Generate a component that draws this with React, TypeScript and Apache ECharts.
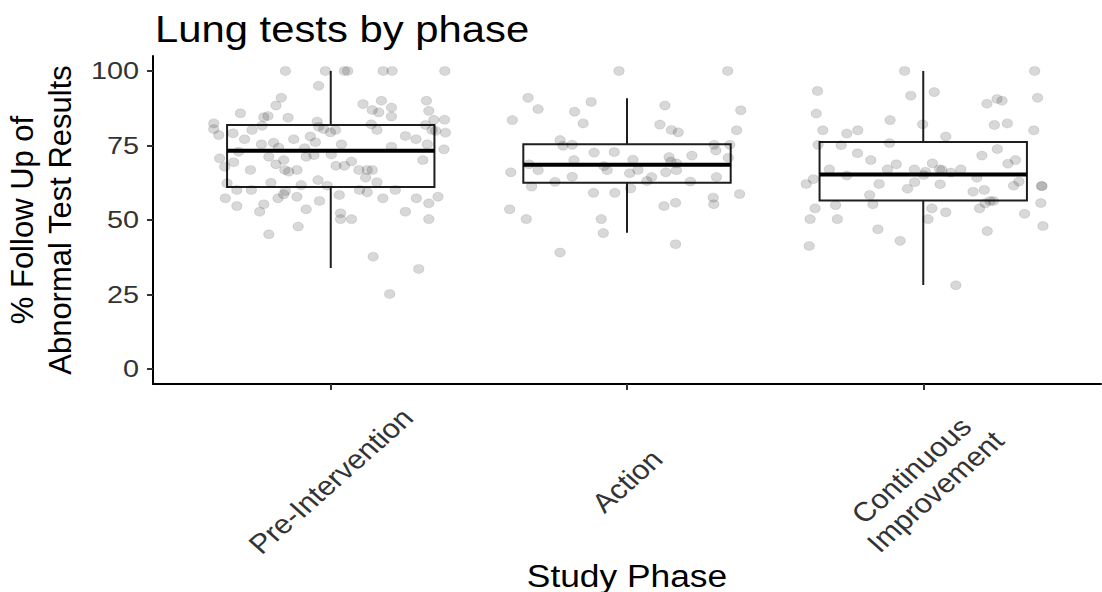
import React, { useEffect, useRef } from "react";
import * as echarts from "echarts";

const FONT = "'Liberation Sans', Arial, Helvetica, sans-serif";

const titleText = "Lung tests by phase";
const xTitle = "Study Phase";
const yTitle = "% Follow Up of\nAbnormal Test Results";

const categories = ["Pre-Intervention", "Action", "Continuous\nImprovement"];
const categoryIndex = [0, 1, 2];
const yTicks = [0, 25, 50, 75, 100];
const yTickLabels = ["0", "25", "50", "75", "100"];

// boxplot statistics: lower whisker, Q1, median, Q3, upper whisker
const boxLow = [33.9, 45.7, 28.2];
const boxQ1 = [61.1, 62.5, 56.5];
const boxMedian = [73.2, 68.5, 65.3];
const boxQ3 = [81.9, 75.4, 76.2];
const boxHigh = [100, 90.8, 100];

// jittered points: horizontal jitter (in category units) and value
const preJitter = [
  -0.153, -0.018, 0.046, 0.057, 0.177, 0.207, 0.385, -0.041, -0.167, -0.185,
  -0.305, 0.109, 0.171, 0.323, 0.14, 0.162, 0.205, 0.205, 0.331, -0.226,
  -0.212, -0.144, -0.395, -0.395, -0.378, -0.33, -0.266, -0.232, -0.046, -0.041,
  -0.024, -0.001, 0.016, 0.137, 0.156, 0.348, 0.384, 0.32, 0.342, 0.354,
  0.387, 0.252, 0.288, 0.382, 0.326, 0.311, 0.205, -0.291, -0.234, -0.193,
  -0.125, -0.069, -0.052, -0.088, 0.036, -0.311, -0.209, -0.176, -0.159, -0.083,
  -0.057, 0.002, -0.375, -0.328, -0.358, -0.271, -0.185, -0.155, -0.142, -0.114,
  0.018, 0.046, 0.07, 0.095, 0.123, 0.14, 0.118, 0.156, -0.043, -0.012,
  -0.35, -0.202, -0.1, -0.317, -0.268, -0.153, -0.159, 0.097, 0.123, 0.218,
  0.029, -0.356, -0.178, -0.114, -0.038, 0.176, 0.289, 0.362, 0.331, -0.317,
  -0.226, -0.24, -0.083, 0.252, 0.033, 0.033, 0.07, 0.331, -0.11, -0.209,
  0.143, 0.297, 0.199,
];
const preValues = [
  100, 100, 100, 100, 100, 100, 100, 95.0, 91.0, 88.4,
  85.8, 88.9, 90.0, 90.0, 86.9, 86.1, 87.7, 84.7, 86.6, 84.5,
  84.9, 84.3, 82.4, 80.5, 78.5, 79.1, 80.2, 81.6, 83.0, 81.3,
  80.5, 79.4, 80.2, 82.1, 80.2, 83.6, 83.6, 81.9, 80.2, 79.9,
  79.3, 78.2, 77.1, 73.7, 75.4, 70.1, 74.6, 77.1, 75.4, 75.9,
  77.1, 78.0, 76.1, 74.1, 75.4, 72.9, 71.2, 74.3, 70.1, 71.2,
  71.8, 72.0, 70.7, 69.4, 67.9, 66.8, 68.7, 66.8, 66.2, 66.8,
  68.2, 68.2, 69.6, 66.8, 66.8, 66.8, 64.2, 62.7, 63.4, 61.5,
  62.3, 62.5, 61.7, 60.1, 60.1, 59.7, 58.6, 60.1, 59.3, 60.1,
  58.4, 57.3, 57.3, 57.8, 56.4, 57.3, 57.3, 57.8, 55.6, 54.7,
  55.3, 52.8, 53.6, 52.8, 52.3, 50.3, 50.3, 50.3, 47.8, 45.2,
  37.7, 33.6, 25.2,
];

const actionJitter = [
  -0.027, 0.34, -0.334, -0.3, -0.387, -0.177, -0.121, -0.148, 0.128, 0.384,
  0.111, 0.15, 0.173, 0.37, -0.226, -0.216, -0.185, 0.294, 0.3, 0.347,
  -0.111, -0.043, -0.179, 0.02, 0.142, 0.148, 0.167, 0.219, 0.342, -0.331,
  -0.3, -0.392, -0.078, -0.067, 0.009, 0.037, 0.131, 0.167, -0.185, -0.243,
  -0.322, 0.067, 0.083, 0.214, 0.302, 0.012, -0.113, -0.041, 0.38, 0.291,
  0.293, 0.164, 0.125, -0.396, -0.34, -0.087, -0.08, 0.164, -0.226,
];
const actionValues = [
  100, 100, 91.0, 87.2, 83.5, 86.3, 89.6, 82.4, 88.4, 86.8,
  82.0, 80.2, 79.4, 80.1, 76.8, 74.9, 75.2, 75.2, 73.3, 75.2,
  72.6, 72.8, 70.1, 70.2, 71.1, 69.6, 69.0, 71.6, 70.9, 68.7,
  66.7, 66.0, 68.1, 66.7, 65.7, 66.8, 66.0, 66.7, 64.5, 62.8,
  61.2, 63.1, 64.4, 62.9, 64.4, 60.6, 59.1, 59.1, 58.7, 57.5,
  55.3, 55.8, 54.7, 53.6, 50.3, 50.3, 45.6, 41.9, 39.1,
];

const contJitter = [
  -0.063, 0.376, -0.357, -0.042, 0.037, 0.386, -0.361, 0.215, 0.249, 0.266,
  -0.339, -0.258, -0.221, -0.112, -0.002, 0.076, 0.24, 0.284, 0.373, -0.355,
  -0.277, -0.114, -0.222, -0.177, 0.198, 0.25, 0.286, 0.311, -0.317, -0.371,
  -0.395, -0.258, -0.149, -0.121, -0.091, -0.03, -0.053, -0.029, 0.007, 0.001,
  0.031, 0.055, 0.063, 0.093, 0.127, 0.057, 0.181, 0.305, 0.323, 0.401,
  0.399, 0.168, 0.206, -0.181, -0.17, -0.296, -0.365, -0.382, -0.29, 0.029,
  0.076, 0.016, 0.19, 0.209, 0.226, 0.237, 0.342, 0.397, 0.404, -0.153,
  0.216, -0.385, -0.078, 0.11,
];
const contValues = [
  100, 100, 93.3, 91.7, 92.9, 91.0, 85.7, 89.0, 90.6, 90.0,
  80.1, 79.0, 80.1, 83.5, 82.1, 78.0, 81.9, 82.4, 80.1, 75.2,
  75.1, 75.8, 72.4, 70.1, 71.6, 73.8, 68.9, 70.1, 67.0, 63.7,
  62.1, 64.9, 62.1, 67.0, 68.7, 67.0, 60.5, 62.7, 66.2, 65.1,
  69.0, 67.0, 66.8, 65.9, 67.0, 62.0, 64.2, 61.5, 62.9, 61.4,
  61.4, 59.5, 60.1, 58.4, 55.3, 55.0, 53.9, 50.3, 50.3, 53.9,
  52.6, 50.3, 53.9, 55.6, 56.4, 56.4, 52.1, 55.7, 48.0, 46.9,
  46.3, 41.3, 43.0, 28.1,
];

const jitterGroups = [
  { jitter: preJitter, values: preValues },
  { jitter: actionJitter, values: actionValues },
  { jitter: contJitter, values: contValues },
];

const BOX_HALF = 0.35;
const STRETCH = 1.13;

export default function App() {
  const ref = useRef<HTMLDivElement>(null);

  useEffect(() => {
    if (!ref.current) return;
    const chart = echarts.init(ref.current, undefined, { renderer: "svg" });

    const boxData = categoryIndex.map((i) => [
      i,
      boxLow[i],
      boxQ1[i],
      boxMedian[i],
      boxQ3[i],
      boxHigh[i],
    ]);

    const pointData: number[][] = [];
    jitterGroups.forEach((g, i) => {
      g.values.forEach((v, k) => pointData.push([i + g.jitter[k], v]));
    });

    const stroke = "#1e1e1e";

    chart.setOption({
      animation: false,
      backgroundColor: "#ffffff",
      textStyle: { fontFamily: FONT },
      grid: { left: 153, right: 1, top: 56, bottom: 208, containLabel: false },
      xAxis: {
        type: "value",
        min: -0.6,
        max: 2.6,
        splitLine: { show: false },
        axisLine: { show: true, onZero: false, lineStyle: { color: "#000", width: 2 } },
        axisTick: {
          show: true,
          customValues: categoryIndex,
          length: 6,
          lineStyle: { color: "#333", width: 2 },
        },
        axisLabel: { show: false },
      },
      yAxis: {
        type: "value",
        min: -5,
        max: 105,
        splitLine: { show: false },
        axisLine: { show: true, onZero: false, lineStyle: { color: "#000", width: 2 } },
        axisTick: {
          show: true,
          customValues: yTicks,
          length: 6,
          lineStyle: { color: "#333", width: 2 },
        },
        axisLabel: { show: false },
      },
      series: [
        {
          type: "custom",
          z: 2,
          data: boxData,
          encode: { x: 0, y: [1, 2, 3, 4, 5] },
          renderItem: (params: any, api: any) => {
            const i = api.value(0);
            const low = api.coord([i, api.value(1)]);
            const q1 = api.coord([i, api.value(2)]);
            const med = api.coord([i, api.value(3)]);
            const q3 = api.coord([i, api.value(4)]);
            const high = api.coord([i, api.value(5)]);
            const left = api.coord([i - BOX_HALF, api.value(3)])[0];
            const right = api.coord([i + BOX_HALF, api.value(3)])[0];
            return {
              type: "group",
              children: [
                {
                  type: "line",
                  shape: { x1: low[0], y1: low[1], x2: q1[0], y2: q1[1] },
                  style: { stroke, lineWidth: 2 },
                },
                {
                  type: "line",
                  shape: { x1: q3[0], y1: q3[1], x2: high[0], y2: high[1] },
                  style: { stroke, lineWidth: 2 },
                },
                {
                  type: "rect",
                  shape: { x: left, y: q3[1], width: right - left, height: q1[1] - q3[1] },
                  style: { fill: "#ffffff", stroke, lineWidth: 2 },
                },
                {
                  type: "line",
                  shape: { x1: left, y1: med[1], x2: right, y2: med[1] },
                  style: { stroke: "#000", lineWidth: 4 },
                },
              ],
            };
          },
        },
        {
          type: "scatter",
          z: 3,
          data: pointData,
          symbol: "circle",
          symbolSize: [10.5, 9],
          itemStyle: {
            color: "rgba(0,0,0,0.19)",
            borderColor: "rgba(0,0,0,0.12)",
            borderWidth: 1,
          },
          emphasis: { disabled: true },
        },
      ],
    });

    // tick labels placed through the axes' own scales
    const axisY = chart.convertToPixel({ yAxisIndex: 0 }, -5) as number;
    const axisX = chart.convertToPixel({ xAxisIndex: 0 }, -0.6) as number;

    const yLabelGraphics = yTicks.map((v, k) => ({
      type: "text",
      x: axisX - 14,
      y: chart.convertToPixel({ yAxisIndex: 0 }, v) as number,
      scaleX: 1.2,
      style: {
        text: yTickLabels[k],
        fontSize: 24,
        fontFamily: FONT,
        fill: "#333",
        align: "right",
        verticalAlign: "middle",
      },
    }));

    const xLabelGraphics = categoryIndex.map((i) => ({
      type: "group",
      x: chart.convertToPixel({ xAxisIndex: 0 }, i) as number,
      y: axisY + 97,
      scaleX: STRETCH,
      children: [
        {
          type: "text",
          rotation: Math.PI / 4,
          style: {
            text: categories[i],
            fontSize: 27,
            lineHeight: 30,
            fontFamily: FONT,
            fill: "#333",
            align: "center",
            verticalAlign: "middle",
          },
        },
      ],
    }));

    chart.setOption({
      graphic: [
        {
          type: "text",
          x: 155,
          y: 28.5,
          scaleX: STRETCH,
          style: {
            text: titleText,
            fontSize: 37,
            fontFamily: FONT,
            fill: "#000",
            align: "left",
            verticalAlign: "middle",
          },
        },
        {
          type: "text",
          x: 627,
          y: 576,
          scaleX: 1.14,
          style: {
            text: xTitle,
            fontSize: 31,
            fontFamily: FONT,
            fill: "#000",
            align: "center",
            verticalAlign: "middle",
          },
        },
        {
          type: "text",
          x: 41,
          y: 220,
          rotation: Math.PI / 2,
          style: {
            text: yTitle,
            fontSize: 31,
            lineHeight: 38,
            fontFamily: FONT,
            fill: "#000",
            align: "center",
            verticalAlign: "middle",
          },
        },
        ...yLabelGraphics,
        ...xLabelGraphics,
      ],
    });

    return () => chart.dispose();
  }, []);

  return (
    <div
      ref={ref}
      style={{ position: "absolute", left: 0, top: 0, width: 1102, height: 592 }}
    />
  );
}
